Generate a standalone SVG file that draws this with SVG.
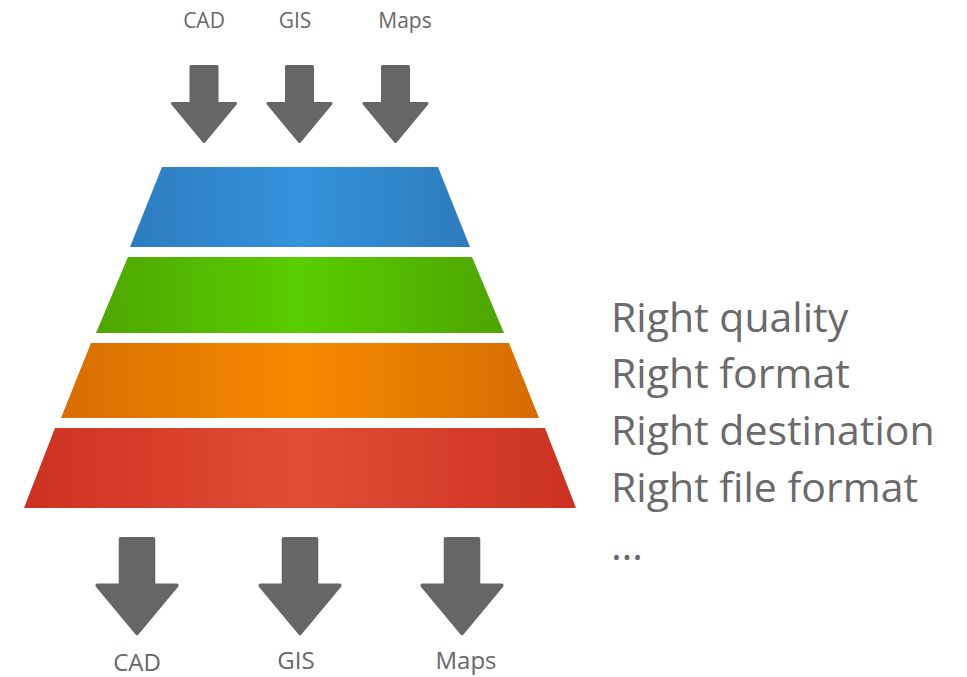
<svg xmlns="http://www.w3.org/2000/svg" xmlns:xlink="http://www.w3.org/1999/xlink" width="967" height="677" viewBox="0 0 967 677">
  <style>
    .lbl { font-family: "Open Sans", "Liberation Sans", sans-serif; fill: #686868; text-anchor: middle; }
    .top { font-size: 21px; }
    .bot { font-size: 24px; }
    .list { font-family: "Open Sans", "Liberation Sans", sans-serif; fill: #6a6a6a; font-size: 41px; }
    .arrow { fill: #666666; stroke: #666666; stroke-width: 3; stroke-linejoin: round; }
  </style>
  <defs>
    <linearGradient id="gBlue" x1="0" y1="0" x2="1" y2="0">
      <stop offset="0" stop-color="#2e7cc0"/>
      <stop offset="0.5" stop-color="#3492da"/>
      <stop offset="1" stop-color="#2d7bbd"/>
    </linearGradient>
    <linearGradient id="gGreen" x1="0" y1="0" x2="1" y2="0">
      <stop offset="0" stop-color="#4ea602"/>
      <stop offset="0.5" stop-color="#59cd00"/>
      <stop offset="1" stop-color="#4da402"/>
    </linearGradient>
    <linearGradient id="gOrange" x1="0" y1="0" x2="1" y2="0">
      <stop offset="0" stop-color="#d86d02"/>
      <stop offset="0.5" stop-color="#f68a00"/>
      <stop offset="1" stop-color="#d66c02"/>
    </linearGradient>
    <linearGradient id="gRed" x1="0" y1="0" x2="1" y2="0">
      <stop offset="0" stop-color="#cc3222"/>
      <stop offset="0.5" stop-color="#e24c34"/>
      <stop offset="1" stop-color="#cb3222"/>
    </linearGradient>
    <path id="arr" d="M-13,1.5 H13 V38.5 H31.5 L0,76.5 L-31.5,38.5 H-13 Z"/>
  </defs>

  <rect width="967" height="677" fill="#ffffff"/>

  <g id="band-blue">
    <polygon points="162,167 438,167 470,247 130,247" fill="url(#gBlue)"/>
  </g>
  <g id="band-green">
    <polygon points="128,257 472,257 504,333 96,333" fill="url(#gGreen)"/>
  </g>
  <g id="band-orange">
    <polygon points="91,343 509,343 539,418 61,418" fill="url(#gOrange)"/>
  </g>
  <g id="band-red">
    <polygon points="55,428 545,428 576,508 24,508" fill="url(#gRed)"/>
  </g>

  <g id="connectors">
    <use xlink:href="#arr" class="arrow" transform="translate(204,65)"/>
    <use xlink:href="#arr" class="arrow" transform="translate(299.5,65)"/>
    <use xlink:href="#arr" class="arrow" transform="translate(395.5,65)"/>
    <use xlink:href="#arr" class="arrow" transform="translate(137,537) scale(1.26)"/>
    <use xlink:href="#arr" class="arrow" transform="translate(300,537) scale(1.26)"/>
    <use xlink:href="#arr" class="arrow" transform="translate(462,537) scale(1.26)"/>
  </g>

  <g id="input-labels">
    <text class="lbl top" x="204" y="28">CAD</text>
    <text class="lbl top" x="295" y="28">GIS</text>
    <text class="lbl top" x="405" y="28">Maps</text>
  </g>

  <g id="output-labels">
    <text class="lbl bot" x="137" y="671">CAD</text>
    <text class="lbl bot" x="296" y="669">GIS</text>
    <text class="lbl bot" x="466" y="669">Maps</text>
  </g>

  <g id="criteria">
    <text class="list" x="611" y="332">Right quality</text>
    <text class="list" x="611" y="388">Right format</text>
    <text class="list" x="611" y="445">Right destination</text>
    <text class="list" x="611" y="502">Right file format</text>
    <text class="list" x="611" y="560">…</text>
  </g>
</svg>
